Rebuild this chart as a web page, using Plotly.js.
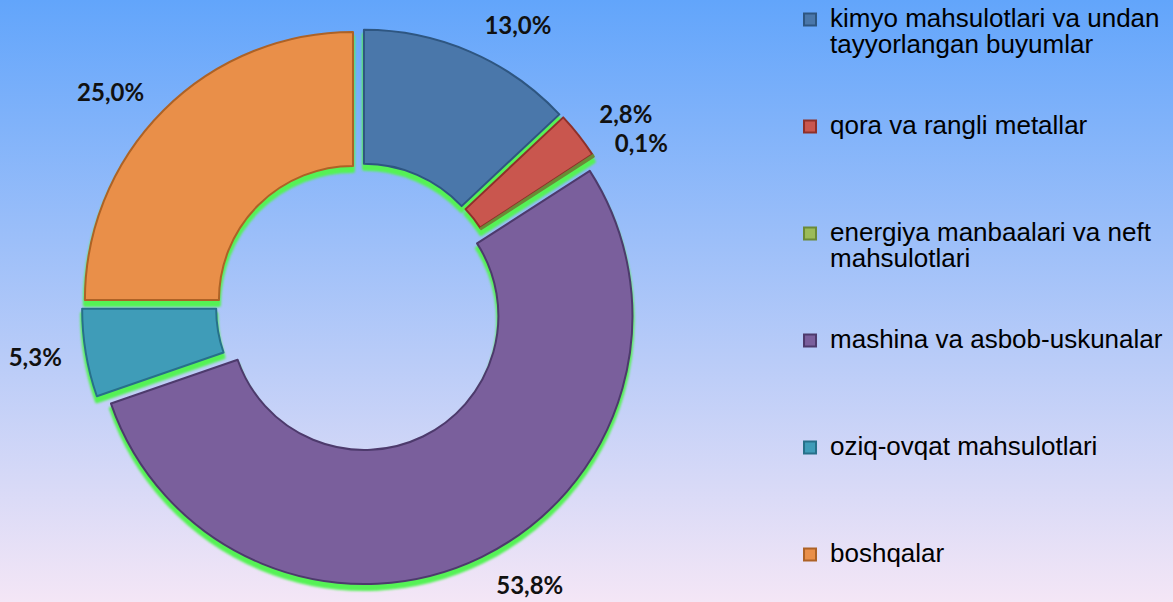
<!DOCTYPE html>
<html>
<head>
<meta charset="utf-8">
<script src="https://cdn.plot.ly/plotly-3.0.1.min.js"></script>
<style>
  html, body { margin: 0; padding: 0; }
  body { width: 1173px; height: 602px; overflow: hidden;
         background: linear-gradient(to bottom, #62a5fb 0%, #f4e6f6 100%); }
  #chart { width: 1173px; height: 602px; }
  .pielayer .trace:first-child { filter: blur(1px); }
  path.textline { stroke-opacity: 0 !important; }
</style>
</head>
<body>
<div id="chart"></div>
<script>
// ---- data ----
const categories = [
  "kimyo mahsulotlari va undan<br>tayyorlangan buyumlar",
  "qora va rangli metallar",
  "energiya manbaalari va neft<br>mahsulotlari",
  "mashina va asbob-uskunalar",
  "oziq-ovqat mahsulotlari",
  "boshqalar"
];
const shares = [13.0, 2.8, 0.1, 53.8, 5.3, 25.0];
const sliceColors = ["#4a77aa", "#c9564e", "#9bbb59", "#7a5f9c", "#3f9cb8", "#e98f49"];
const edgeColors  = ["#2e5681", "#8e302a", "#6b8a37", "#4d3a6c", "#27708a", "#ad6226"];

// ---- derived ----
const pctText = shares.map(v => v.toFixed(1).replace('.', ',') + '%');
const legendLabels = categories.map((c, i) => {
  const lines = c.split('<br>').map(l => '<span style="font-size:26px">' + l + '</span>');
  if (i < categories.length - 1) { while (lines.length < 4) lines.push(''); }
  return lines.join('<br>');
});

const W = 1173, H = 602;
const cx = 360, cy = 307;
function dom(half, dy) {
  return {
    x: [(cx - half) / W, (cx + half) / W],
    y: [Math.max(0, 1 - (cy + dy + half) / H), Math.min(1, 1 - (cy + dy - half) / H)]
  };
}
const pullVal = 0.037;
const mainHalf = 278;

const shadow = {
  type: 'pie', values: shares, labels: legendLabels, sort: false, direction: 'clockwise',
  rotation: 0, hole: 0.5, pull: pullVal, domain: dom(mainHalf, 5),
  marker: { colors: shares.map(() => '#55f255'), line: { color: '#55f255', width: 4 } },
  textinfo: 'none', showlegend: false, hoverinfo: 'skip'
};
const main = {
  type: 'pie', values: shares, labels: legendLabels, sort: false, direction: 'clockwise',
  rotation: 0, hole: 0.5, pull: pullVal, domain: dom(mainHalf, 0),
  marker: { colors: sliceColors, line: { color: edgeColors, width: 2 } },
  textinfo: 'none', hoverinfo: 'percent', showlegend: true
};
const labelHalf = 295;
const labelTrace = {
  type: 'pie', values: shares, labels: legendLabels, sort: false, direction: 'clockwise',
  rotation: 0, domain: { x: [(cx - labelHalf) / W, (cx + labelHalf) / W], y: [0, 1 - (cy - labelHalf) / H] },
  marker: { colors: shares.map(() => 'rgba(0,0,0,0)'), line: { width: 0 } },
  text: pctText, textinfo: 'text', textposition: 'outside',
  textfont: { family: 'Lato, "Open Sans", sans-serif', size: 24, weight: 'bold', color: '#111' },
  showlegend: false, hoverinfo: 'skip'
};

const layout = {
  width: W, height: H,
  margin: { l: 0, r: 0, t: 0, b: 0, autoexpand: false },
  paper_bgcolor: 'rgba(0,0,0,0)', plot_bgcolor: 'rgba(0,0,0,0)',
  showlegend: true,
  legend: {
    x: 0.6735, xanchor: 'left', y: 1, yanchor: 'top',
    valign: 'top', bgcolor: 'rgba(0,0,0,0)', borderwidth: 0,
    font: { family: '"Liberation Sans", Arial, sans-serif', size: 20, color: '#000' },
    traceorder: 'normal'
  }
};

Plotly.newPlot('chart', [shadow, main, labelTrace], layout, { displayModeBar: false, staticPlot: true });
</script>
</body>
</html>
